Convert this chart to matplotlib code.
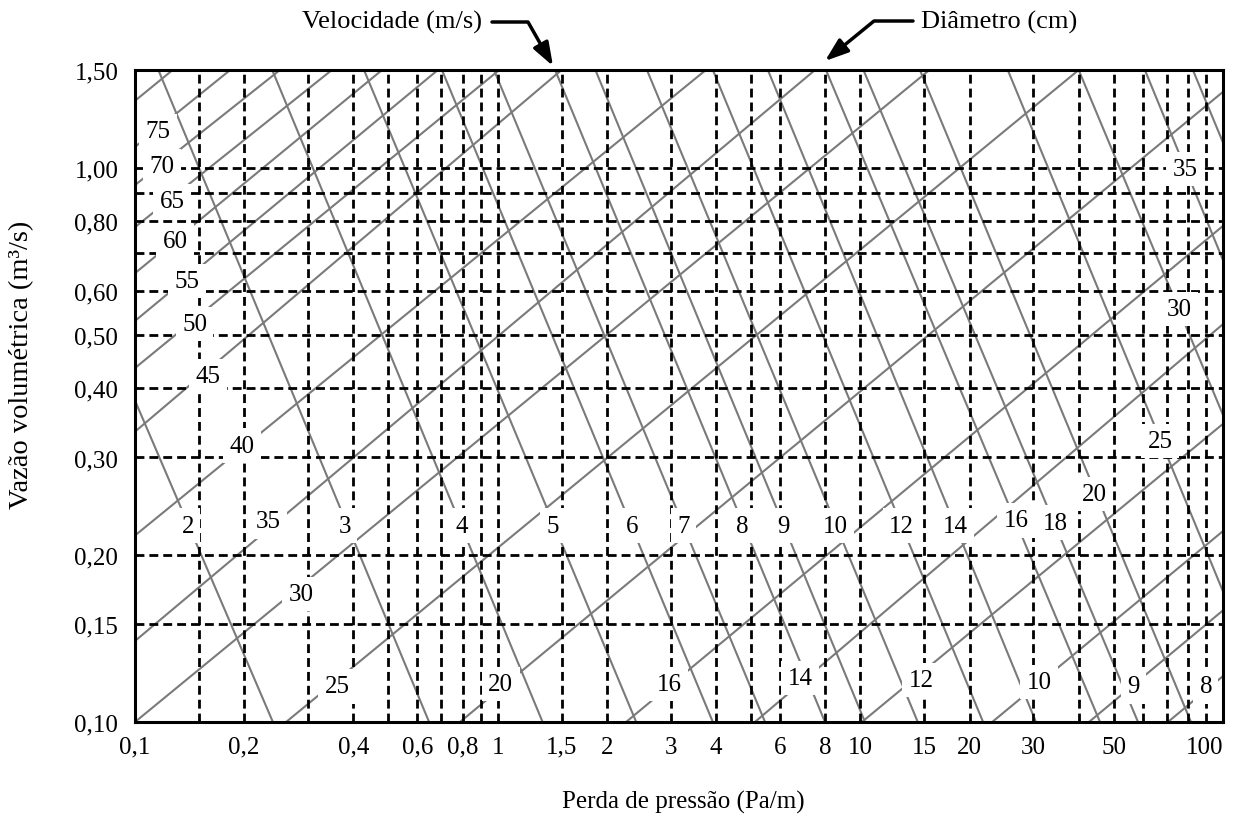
import numpy as np
import matplotlib.pyplot as plt
from matplotlib.patches import FancyArrowPatch
from matplotlib.path import Path
from matplotlib.ticker import FixedLocator, NullLocator, FixedFormatter

plt.rcParams['font.family'] = ['Liberation Serif', 'DejaVu Serif']

# axis ticks and grid
x_ticks = [0.1, 0.2, 0.4, 0.6, 0.8, 1, 1.5, 2, 3, 4, 6, 8, 10, 15, 20, 30, 50, 100]
x_tick_labels = ['0,1', '0,2', '0,4', '0,6', '0,8', '1', '1,5', '2', '3', '4', '6', '8',
                 '10', '15', '20', '30', '50', '100']
y_ticks = [0.10, 0.15, 0.20, 0.30, 0.40, 0.50, 0.60, 0.80, 1.00, 1.50]
y_tick_labels = ['0,10', '0,15', '0,20', '0,30', '0,40', '0,50', '0,60', '0,80', '1,00', '1,50']
x_grid = [0.15, 0.2, 0.3, 0.4, 0.5, 0.6, 0.7, 0.8, 0.9, 1, 1.5, 2, 3, 4, 5, 6, 8, 10,
          15, 20, 30, 40, 50, 60, 70, 80, 90]
y_grid = [0.15, 0.2, 0.3, 0.4, 0.5, 0.6, 0.7, 0.8, 0.9, 1.0]

# velocity lines (m/s): where each line enters and leaves the chart
vel_names = ['2', '3', '4', '5', '6', '7', '8', '9', '10', '12', '14', '16', '18', '20',
             '25', '30', '35', '']
vel_x0 = [0.1, 0.116, 0.239, 0.428, 0.702, 0.977, 1.44, 1.86, 2.58, 3.92, 5.56, 8.04,
          10.2, 14.6, 25.5, 40.0, 60.9, 82.6]
vel_y0 = [0.38] + [1.5] * 17
vel_x1 = [0.240, 0.647, 1.33, 2.41, 3.92, 5.46, 7.99, 10.3, 14.4, 21.8, 30.5, 45.8,
          58.3, 81.6, 100, 100, 100, 100]
vel_y1 = [0.1] * 14 + [0.172, 0.358, 0.681, 1.11]
vel_lab_x = [0.140, 0.379, 0.797, 1.42, 2.35, 3.26, 4.72, 6.12, 8.51, 13.0, 18.3, 26.9,
             34.4, 44.1, 67.0, 75.6, 78.5]
vel_lab_y = [0.226] * 11 + [0.231, 0.229, 0.258, 0.321, 0.556, 0.994]

# diameter lines (cm)
diam_names = ['', '75', '70', '65', '60', '55', '50', '45', '40', '35', '30', '25', '20',
              '16', '14', '12', '10', '9', '8']
diam_x0 = [0.1] * 11 + [0.261, 0.787, 2.26, 5.12, 10.1, 23.1, 42.7, 70.5]
diam_y0 = [1.32, 1.09, 0.93, 0.781, 0.645, 0.529, 0.435, 0.334, 0.217, 0.140, 0.1] + [0.1] * 8
diam_x1 = [0.127, 0.183, 0.251, 0.349, 0.48, 0.684, 1.01, 1.50, 3.75, 7.5, 15.5, 40.0,
           100, 100, 100, 100, 100, 100, 100]
diam_y1 = [1.5] * 12 + [1.37, 0.785, 0.522, 0.345, 0.221, 0.159, 0.121]
diam_lab_x = [0.1157, 0.1187, 0.1265, 0.129, 0.139, 0.146, 0.159, 0.197, 0.233, 0.287,
              0.361, 1.02, 2.97, 6.82, 14.7, 31.1, 56.8, 89.7]
diam_lab_y = [1.165, 1.007, 0.871, 0.737, 0.624, 0.522, 0.421, 0.315, 0.230, 0.170,
              0.116, 0.117, 0.117, 0.120, 0.119, 0.118, 0.116, 0.116]

W, H = 1236, 829
fig = plt.figure(figsize=(W / 100, H / 100), dpi=100)
ax = fig.add_axes([135 / W, 1 - 723 / H, 1088 / W, 652 / H])
ax.set_xscale('log')
ax.set_yscale('log')
ax.set_xlim(0.1, 100)
ax.set_ylim(0.1, 1.5)

gray = '#7a7a7a'
for i in range(len(vel_x0)):
    ax.plot([vel_x0[i], vel_x1[i]], [vel_y0[i], vel_y1[i]], color=gray, lw=1.5, zorder=2)
for i in range(len(diam_x0)):
    ax.plot([diam_x0[i], diam_x1[i]], [diam_y0[i], diam_y1[i]], color=gray, lw=1.5, zorder=2)

dash = (0, (3.2, 1.8))
for xv in x_grid:
    ax.axvline(xv, color='black', lw=2, linestyle=dash, zorder=3)
for yv in y_grid:
    ax.axhline(yv, color='black', lw=2, linestyle=dash, zorder=3)

box = dict(facecolor='white', edgecolor='none', boxstyle='square,pad=0.25')
names = [n for n in vel_names if n]
for i, n in enumerate(names):
    ax.text(vel_lab_x[i], vel_lab_y[i], n, fontsize=18, ha='center', va='center',
            bbox=box, zorder=4)
names = [n for n in diam_names if n]
for i, n in enumerate(names):
    ax.text(diam_lab_x[i], diam_lab_y[i], n, fontsize=18, ha='center', va='center',
            bbox=box, zorder=4)

ax.xaxis.set_major_locator(FixedLocator(x_ticks))
ax.xaxis.set_major_formatter(FixedFormatter(x_tick_labels))
ax.xaxis.set_minor_locator(NullLocator())
ax.yaxis.set_major_locator(FixedLocator(y_ticks))
ax.yaxis.set_major_formatter(FixedFormatter(y_tick_labels))
ax.yaxis.set_minor_locator(NullLocator())
ax.tick_params(axis='x', length=0, pad=10, labelsize=18)
ax.tick_params(axis='y', length=0, pad=12, labelsize=18)
for s in ax.spines.values():
    s.set_linewidth(2.2)
    s.set_zorder(5)

# keep the last x label inside the figure
fig.canvas.draw()
ax.get_xticklabels()[-1].set_horizontalalignment('right')

def fp(x, y):
    return (x / W, 1 - y / H)

fig.text(*fp(22, 365), 'Vazão volumétrica (m³/s)', rotation=90, ha='center', va='center',
         fontsize=20.5)
fig.text(*fp(683, 802), 'Perda de pressão (Pa/m)', ha='center', va='center', fontsize=18)
fig.text(*fp(392, 22), 'Velocidade (m/s)', ha='center', va='center', fontsize=19)
fig.text(*fp(999, 22), 'Diâmetro (cm)', ha='center', va='center', fontsize=19)

for pts in ([(492, 23), (528, 23), (553, 67)], [(913, 22), (874, 22), (825, 62)]):
    path = Path([fp(*p) for p in pts], [Path.MOVETO, Path.LINETO, Path.LINETO])
    arr = FancyArrowPatch(path=path, transform=fig.transFigure,
                          arrowstyle='-|>,head_length=0.7,head_width=0.25',
                          mutation_scale=20, lw=2.5, color='black')
    fig.add_artist(arr)

fig.savefig('out.png', dpi=100)
